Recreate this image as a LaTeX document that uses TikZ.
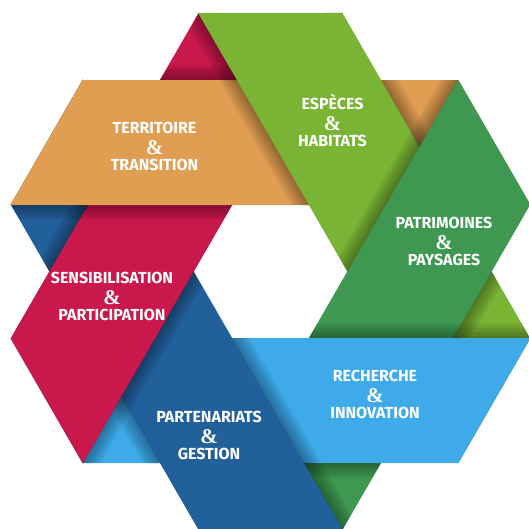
\documentclass[tikz,border=0pt]{standalone}
\usepackage{fontspec}
\setmainfont{Fira Sans}
\newfontfamily\ampfont{Liberation Serif}
\usetikzlibrary{positioning}

\definecolor{terrorange}{RGB}{224,158,82}
\definecolor{espgreen}{RGB}{122,180,52}
\definecolor{patgreen}{RGB}{62,152,82}
\definecolor{rechblue}{RGB}{62,170,234}
\definecolor{partblue}{RGB}{34,96,156}
\definecolor{sensred}{RGB}{200,24,76}

\tikzset{
  bandtext/.style={text=white, inner sep=0pt, font=\fontsize{16}{18}\selectfont\bfseries},
  amptext/.style={text=white, inner sep=0pt, font=\ampfont\fontsize{21}{21}\selectfont\bfseries},
  shadow/.style={fill=black, opacity=0.06},
}

% one ribbon, turned round the centre of the hole
\newcommand{\band}[2]{%
  \fill[#2, rotate=#1] (-260.1,66.5) -- (-187.9,191.5) -- (187.9,191.5) -- (260.1,66.5) -- cycle;}

% soft dark strips along both edges of a ribbon, in its own frame
\newcommand{\edgeshadow}{%
  \foreach \k in {2.5,5,...,15} {
    \fill[shadow] (-270,66.5-\k) rectangle (270,66.5);
    \fill[shadow] (-270,191.5) rectangle (270,191.5+\k);
  }}

% shadows on the visible part of ribbon #1, cast by the two ribbons lying on it
\newcommand{\bandshadow}[1]{%
  \begin{scope}[rotate=#1]
    \clip (-260.1,66.5) -- (-187.9,191.5) -- (187.9,191.5) -- (260.1,66.5) -- cycle;
    \clip (400,-400) rectangle (-400,400)
          ([rotate=-60]-260.1,66.5) -- ([rotate=-60]-187.9,191.5) -- ([rotate=-60]187.9,191.5) -- ([rotate=-60]260.1,66.5) -- cycle;
    \clip (400,-400) rectangle (-400,400)
          ([rotate=-120]-260.1,66.5) -- ([rotate=-120]-187.9,191.5) -- ([rotate=-120]187.9,191.5) -- ([rotate=-120]260.1,66.5) -- cycle;
    \begin{scope}[rotate=-60]\edgeshadow\end{scope}
    \begin{scope}[rotate=-120]\edgeshadow\end{scope}
  \end{scope}}

% three lines of a ribbon: word, ampersand, word
\newcommand{\bandlabel}[5]{%
  \node[bandtext, anchor=base] (#1) at (#2,#3) {#4};
  \node[amptext, below=7pt of #1] (#1-amp) {\&};
  \node[bandtext, below=4pt of #1-amp] (#1-end) {#5};}

\begin{document}
\begin{tikzpicture}[x=1pt, y=1pt]
        \useasboundingbox (-270.5,-256.5) rectangle (258.5,271.5);

        \band{60}{sensred}
        \band{0}{terrorange}
        \band{-60}{espgreen}
        \band{-120}{patgreen}
        \band{180}{rechblue}
        \band{120}{partblue}

        % close the weave
        \begin{scope}
            \clip (-300,-300) rectangle (300,66.5);
            \band{60}{sensred}
        \end{scope}
        \begin{scope}
            \clip (-300,-300) rectangle (-40,300);
            \band{0}{terrorange}
        \end{scope}

        % shadows
        \bandshadow{0}
        \bandshadow{-60}
        \bandshadow{-120}
        \bandshadow{180}
        \bandshadow{120}
        \bandshadow{60}

        \bandlabel{territoire}{-116}{138.5}{TERRITOIRE}{TRANSITION}
        \bandlabel{especes}{62}{162.5}{ESPÈCES}{HABITATS}
        \bandlabel{patrimoines}{173.5}{43.5}{PATRIMOINES}{PAYSAGES}
        \bandlabel{sensibilisation}{-158.5}{-11.5}{SENSIBILISATION}{PARTICIPATION}
        \bandlabel{recherche}{104.5}{-109.5}{RECHERCHE}{INNOVATION}
        \bandlabel{partenariats}{-61.5}{-150.5}{PARTENARIATS}{GESTION}
\end{tikzpicture}
\end{document}
